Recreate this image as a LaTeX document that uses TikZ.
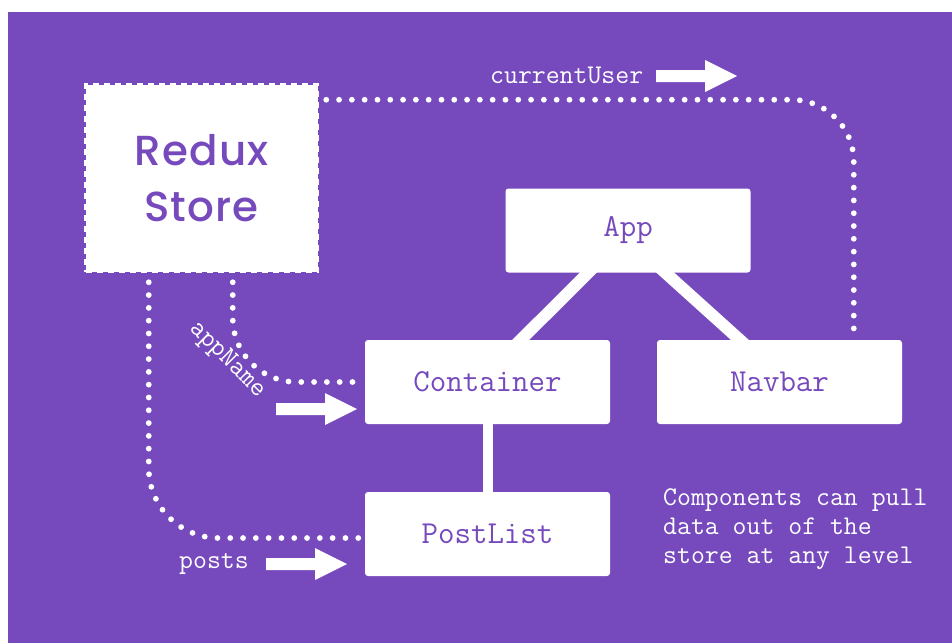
\documentclass[tikz,border=0pt]{standalone}
\usepackage{fontspec}
\usetikzlibrary{calc}
\newfontfamily\storefont{Poppins}[UprightFont=* Medium, LetterSpace=3]
\definecolor{rpurple}{HTML}{764ABC}
\begin{document}
\begin{tikzpicture}[x=1pt,y=-1pt,
  storebox/.style={fill=white, draw=white, line width=3.5pt, dash pattern=on 6pt off 5pt,
    minimum width=232pt, minimum height=187pt, inner sep=0pt, align=center, text=rpurple,
    font=\storefont\fontsize{42}{56}\selectfont},
  compbox/.style={fill=white, rounded corners=3pt, minimum width=245pt, minimum height=84pt,
    inner sep=0pt, text=rpurple, font=\ttfamily\fontsize{32}{32}\selectfont},
  treeline/.style={white, line width=12pt},
  dotline/.style={white, line width=5.8pt, line cap=round, dash pattern=on 0pt off 12.8pt},
  lbl/.style={text=white, inner sep=0pt, font=\ttfamily\fontsize{27}{29}\selectfont},
  blockarrow/.pic={\fill[white] (0,-6) -- (49,-6) -- (49,-16) -- (81,0) -- (49,16) -- (49,6) -- (0,6) -- cycle;}
]
\fill[white] (0,0) rectangle (952,643);
\fill[rpurple] (8,12) rectangle (952,643);
\useasboundingbox (0,0) rectangle (952,643);

% nodes
\node[storebox] (store) at (201.5,178) {Redux\\Store};
\node[compbox] (app) at (628,230.5) {App};
\node[compbox] (container) at (487.5,382) {Container};
\node[compbox] (navbar) at (779.5,382) {Navbar};
\node[compbox] (postlist) at (487.5,534) {PostList};

% tree connectors
\draw[treeline] ($(app.south west)+(88,-5)$) -- ($(container.north west)+(151,5)$);
\draw[treeline] ($(app.south west)+(154.5,-5)$) -- ($(navbar.north west)+(88.5,5)$);
\draw[white, line width=10pt] (container.south) -- (postlist.north);

% dotted data paths
\draw[dotline, rounded corners=62pt] ($(store.north east)+(7,17)$) -| ($(navbar.north west)+(197,0)$);
\draw[dotline, rounded corners=64pt] ($(store.south west)+(149,9)$) |- (container.west);
\draw[dotline, rounded corners=70pt] ($(store.south west)+(65,9)$) |- ($(postlist.west)+(0,4)$);

% block arrows
\pic at (656,76) {blockarrow};
\pic at (276,409) {blockarrow};
\pic at (266,564) {blockarrow};

% labels
\node[lbl, anchor=base west] (cu) at (490,83) {currentUser};
\node[lbl, rotate=-45] (an) at (227,360) {appName};
\node[lbl, anchor=base west] (po) at (179,568) {posts};
\node[lbl, anchor=base west, align=left] (note) at (663,563) {Components can pull\\data out of the\\store at any level};
\end{tikzpicture}
\end{document}
